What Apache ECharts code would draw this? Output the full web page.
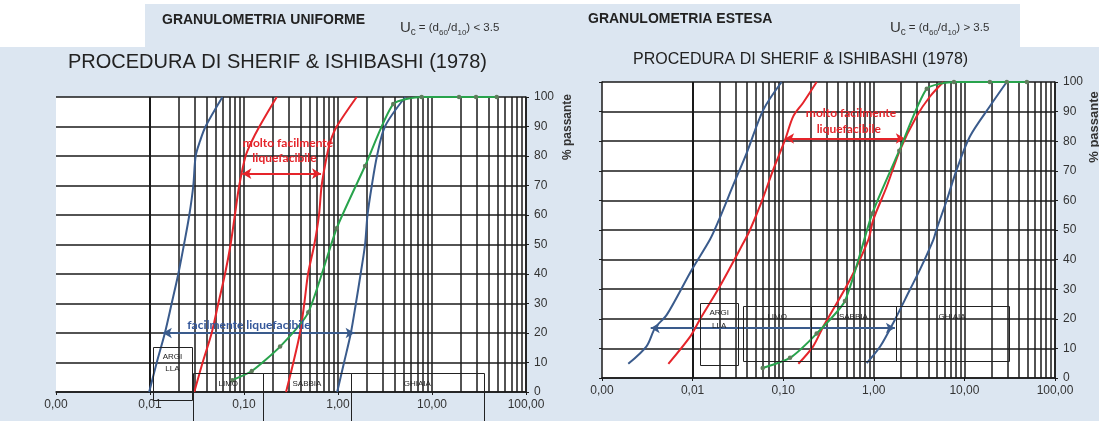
<!DOCTYPE html>
<html><head><meta charset="utf-8">
<script src="https://cdn.jsdelivr.net/npm/echarts@6/dist/echarts.min.js"></script>
<style>
html,body{margin:0;padding:0;background:#fff;width:1099px;height:421px;overflow:hidden;position:relative;}
.bg{position:absolute;background:#dce6f1;}
#c{position:absolute;left:0;top:0;width:1099px;height:421px;}
</style>
</head><body>
<div class="bg" style="left:145px;top:4px;width:875px;height:44px;"></div>
<div class="bg" style="left:0;top:47px;width:1099px;height:374px;"></div>
<div id="c"></div>
<script>
// ---- axis ticks ----
const xTickValues = [0.001, 0.01, 0.1, 1, 10, 100];
const xTickLabels = ['0,00', '0,01', '0,10', '1,00', '10,00', '100,00'];
const decades = [0.001, 0.01, 0.1, 1, 10];
const minorSteps = [1, 2, 3, 4, 5, 6, 7, 8, 9];

// ---- GRANULOMETRIA UNIFORME (left) : [diameter mm, % passante] ----
const blueU1 = [[0.0098,0],[0.0118,10],[0.0144,20],[0.017,30],[0.020,40],[0.023,50],[0.0262,60],[0.0289,70],[0.0306,80],[0.034,85],[0.039,90],[0.059,100]];
const redU1  = [[0.0296,0],[0.0363,10],[0.0453,20],[0.0533,30],[0.0628,40],[0.072,50],[0.080,60],[0.089,70],[0.104,80],[0.121,85],[0.146,90],[0.223,100]];
const redU2  = [[0.28,0],[0.335,10],[0.394,20],[0.438,30],[0.48,40],[0.56,50],[0.628,60],[0.67,70],[0.76,80],[0.83,85],[0.97,90],[1.58,100]];
const blueU2 = [[0.98,0],[1.16,10],[1.37,20],[1.55,30],[1.74,40],[1.94,50],[2.06,60],[2.29,70],[2.6,80],[3.16,90],[5.2,100]];
const greenU = [[0.075,4.0],[0.121,7.1],[0.242,15.4],[0.483,27],[0.968,55.5],[1.94,76.6],[3.87,97.6],[7.76,100],[19.4,100],[29.4,100],[48.8,100]];

// ---- GRANULOMETRIA ESTESA (right) ----
const blueE1 = [[0.00195,4.8],[0.0031,10.7],[0.00385,16.9],[0.0052,21.4],[0.0098,36.6],[0.0155,46.7],[0.0192,52.9],[0.0282,65.3],[0.0395,76],[0.0603,90.6],[0.096,100]];
const redE1  = [[0.0054,4.8],[0.0094,14],[0.012,19.7],[0.020,31],[0.0379,46.7],[0.043,50],[0.058,59.7],[0.0777,70.4],[0.105,80.5],[0.129,88.4],[0.166,93],[0.234,100]];
const redE2  = [[0.147,4.8],[0.214,10.7],[0.277,17.4],[0.546,33.2],[0.87,46.7],[0.988,53.5],[1.39,64.7],[1.95,77.1],[2.97,88.4],[4.17,95.1],[5.86,100]];
const blueE2 = [[0.834,5],[1.18,10.7],[1.71,19.7],[2.5,29.8],[3.23,36.6],[4.54,46.7],[4.9,50],[6.33,59.7],[8.22,70.4],[11.5,81.6],[19.1,91.8],[29.3,100]];
const greenE = [[0.0594,3.4],[0.119,6.8],[0.234,15],[0.48,26],[0.962,55.6],[1.91,76.8],[3.84,97.7],[7.67,100],[19.1,100],[29.4,100],[48.9,100]];

// ---- arrows [x1, x2, y] ----
const arrowRedU = [0.096, 0.66, 74];
const arrowBlueU = [0.0137, 1.5, 20];
const arrowRedE = [0.105, 2.2, 80.9];
const arrowBlueE = [0.00345, 1.71, 16.9];

// ---- soil class boxes [xFrom, xTo, yTop, yBottom] ----
const boxNames = ['ARGILLA', 'LIMO', 'SABBIA', 'GHIAIA'];
const boxLabels = [['ARGI', 'LLA'], ['LIMO'], ['SABBIA'], ['GHIAIA']];
const boxesU = [[0.0108, 0.0278, 15.4, -2.4], [0.0289, 0.160, 6.3, -12], [0.160, 1.365, 6.3, -12], [1.365, 35.7, 6.3, -12]];
const boxesE = [[0.0121, 0.0319, 25.5, 4.7], [0.0363, 0.2027, 24.3, 5.8], [0.2027, 1.746, 24.3, 5.8], [1.746, 30.5, 24.3, 5.8]];

// ---- texts ----
const headerU = 'GRANULOMETRIA UNIFORME';
const headerE = 'GRANULOMETRIA ESTESA';
const titleText = 'PROCEDURA DI SHERIF & ISHIBASHI (1978)';
const yName = '% passante';
const noteRed = ['molto facilmente', 'liquefacibile'];
const noteBlue = 'facilmente liquefacibile';

const BLUE = '#3a5b8c', RED = '#e5242a', GREEN = '#28a34c', GRID = '#1a1a1a';
const FONT = '"Liberation Sans", Arial, sans-serif';
const NOTE_FONT = 'Lato, "Open Sans", sans-serif';

const vLines = [];
decades.forEach(d => minorSteps.forEach(m => vLines.push(+(d * m).toPrecision(3))));
vLines.push(100);

function xFmt(v) {
  const i = xTickValues.findIndex(t => Math.abs(Math.log10(t) - Math.log10(v)) < 1e-6);
  return i >= 0 ? xTickLabels[i] : '';
}

function xAxisFor(gi) {
  return {
    type: 'log', logBase: 10, min: 0.001, max: 100, gridIndex: gi,
    axisLine: { show: true, lineStyle: { color: GRID, width: 1.5 } },
    axisTick: { show: true, length: 3, lineStyle: { color: GRID } },
    axisLabel: { formatter: xFmt, color: '#333', fontSize: 12, fontFamily: FONT, margin: 7 },
    splitLine: { show: false }, minorTick: { show: false }, minorSplitLine: { show: false }
  };
}
function yAxisFor(gi, pos, labels) {
  return {
    type: 'value', min: 0, max: 100, interval: 10, gridIndex: gi, position: pos,
    axisLine: { show: true, lineStyle: { color: GRID, width: 1.5 } },
    axisTick: { show: true, length: 3, lineStyle: { color: GRID } },
    axisLabel: { show: labels, color: '#333', fontSize: 12, fontFamily: FONT, margin: 8 },
    splitLine: { show: labels, lineStyle: { color: GRID, width: 1.5 } }
  };
}
function gridLinesSeries(xi, yi) {
  return {
    type: 'line', xAxisIndex: xi, yAxisIndex: yi, data: [[0.001, 0]], symbol: 'none',
    lineStyle: { opacity: 0 }, z: 1, silent: true,
    markLine: {
      silent: true, symbol: ['none', 'none'], label: { show: false }, animation: false,
      lineStyle: { color: GRID, width: 1.5, type: 'solid' },
      emphasis: { disabled: true },
      data: vLines.map(v => ({ xAxis: v }))
    }
  };
}
function curve(xi, yi, data, color) {
  return { type: 'line', xAxisIndex: xi, yAxisIndex: yi, data, smooth: 0.3, symbol: 'none',
    lineStyle: { color, width: 2 }, z: 5, silent: true };
}
function green(xi, yi, data) {
  return { type: 'line', xAxisIndex: xi, yAxisIndex: yi, data, smooth: 0.2, symbol: 'circle', symbolSize: 4.5,
    showSymbol: true, itemStyle: { color: '#5f7d5c' }, lineStyle: { color: GREEN, width: 2 }, z: 6, silent: true };
}
function arrow(xi, yi, a, color) {
  return {
    type: 'line', xAxisIndex: xi, yAxisIndex: yi, data: [[a[0], a[2]]], symbol: 'none', lineStyle: { opacity: 0 }, z: 7, silent: true,
    markLine: { silent: true, symbol: ['arrow', 'arrow'], symbolSize: [8, 9], label: { show: false }, animation: false,
      lineStyle: { color, width: 2, type: 'solid' }, emphasis: { disabled: true },
      data: [[{ coord: [a[0], a[2]] }, { coord: [a[1], a[2]] }]] }
  };
}

const chart = echarts.init(document.getElementById('c'), null, { renderer: 'canvas' });
const option = {
  backgroundColor: 'transparent',
  animation: false,
  grid: [
    { left: 56, top: 97, width: 470, height: 295, show: true, backgroundColor: '#fff', borderWidth: 0, outerBoundsMode: 'none' },
    { left: 602, top: 82, width: 453, height: 296, show: true, backgroundColor: '#fff', borderWidth: 0, outerBoundsMode: 'none' }
  ],
  xAxis: [xAxisFor(0), xAxisFor(1)],
  yAxis: [yAxisFor(0, 'right', true), yAxisFor(1, 'right', true), yAxisFor(1, 'left', false)],
  series: [
    gridLinesSeries(0, 0), gridLinesSeries(1, 1),
    curve(0, 0, blueU1, BLUE), curve(0, 0, redU1, RED), curve(0, 0, redU2, RED), curve(0, 0, blueU2, BLUE), green(0, 0, greenU),
    curve(1, 1, blueE1, BLUE), curve(1, 1, redE1, RED), curve(1, 1, redE2, RED), curve(1, 1, blueE2, BLUE), green(1, 1, greenE),
    arrow(0, 0, arrowRedU, RED), arrow(0, 0, arrowBlueU, BLUE), arrow(1, 1, arrowRedE, RED), arrow(1, 1, arrowBlueE, BLUE)
  ]
};
chart.setOption(option);

function P(gi, p) { return chart.convertToPixel({ gridIndex: gi }, p); }
function txt(x, y, text, o) {
  return { type: 'text', z: 60, silent: true, x, y,
    style: Object.assign({ text, fill: '#222', fontSize: 12, fontFamily: FONT, align: 'center', verticalAlign: 'middle',
      textAlign: 'center', textVerticalAlign: 'middle' }, o || {}) };
}
const graphics = [];
function addBoxes(gi, boxes, dy) {
  boxes.forEach((b, i) => {
    const p1 = P(gi, [b[0], b[2]]), p2 = P(gi, [b[1], b[3]]);
    graphics.push({ type: 'rect', z: 55, silent: true,
      shape: { x: Math.round(p1[0]) + 0.5, y: Math.round(p1[1]) + 0.5, width: Math.round(p2[0] - p1[0]), height: Math.round(p2[1] - p1[1]) },
      style: { fill: 'none', stroke: '#222', lineWidth: 1 } });
    const cx = (p1[0] + p2[0]) / 2;
    boxLabels[i].forEach((s, k) => graphics.push(txt(cx, p1[1] + dy + k * 12.5, s, { fontSize: 8, fill: '#222' })));
  });
}
addBoxes(0, boxesU, 10);
addBoxes(1, boxesE, 10.5);

// annotation texts (data coordinates)
let q;
q = P(0, [0.294, 84.4]); graphics.push(txt(q[0], q[1], noteRed[0], { fill: RED, fontWeight: 'bold', fontFamily: NOTE_FONT, fontSize: 12 }));
q = P(0, [0.27, 79.3]); graphics.push(txt(q[0], q[1], noteRed[1], { fill: RED, fontWeight: 'bold', fontFamily: NOTE_FONT, fontSize: 12 }));
q = P(0, [0.113, 22.7]); graphics.push(txt(q[0], q[1], noteBlue, { fill: '#34579a', fontWeight: 'bold', fontFamily: NOTE_FONT, fontSize: 12 }));
q = P(1, [0.56, 89.6]); graphics.push(txt(q[0], q[1], noteRed[0], { fill: RED, fontWeight: 'bold', fontFamily: NOTE_FONT, fontSize: 12 }));
q = P(1, [0.53, 84.0]); graphics.push(txt(q[0], q[1], noteRed[1], { fill: RED, fontWeight: 'bold', fontFamily: NOTE_FONT, fontSize: 12 }));

// y-axis names
graphics.push(Object.assign(txt(568, 127, yName, { fontWeight: 'bold', fontSize: 12, fill: '#333' }), { rotation: Math.PI / 2 }));
graphics.push(Object.assign(txt(1094, 127, yName, { fontWeight: 'bold', fontSize: 13, fill: '#333' }), { rotation: Math.PI / 2 }));

// headers and titles
graphics.push(txt(162, 20, headerU, { align: 'left', textAlign: 'left', fontWeight: 'bold', fontSize: 14, fill: '#222' }));
graphics.push(txt(588, 19, headerE, { align: 'left', textAlign: 'left', fontWeight: 'bold', fontSize: 14, fill: '#222' }));
const ucRich = {
  u: { fontSize: 15, fontFamily: FONT, fill: '#333', verticalAlign: 'middle', lineHeight: 18 },
  c: { fontSize: 10, fontFamily: FONT, fill: '#333', verticalAlign: 'bottom', lineHeight: 18, padding: [0, 3, 0, 0] },
  t: { fontSize: 11.5, fontFamily: FONT, fill: '#333', verticalAlign: 'middle', lineHeight: 18 },
  s: { fontSize: 8, fontFamily: FONT, fill: '#333', verticalAlign: 'bottom', lineHeight: 18 }
};
graphics.push(txt(400, 28, '{u|U}{c|c}{t|= (d}{s|60}{t|/d}{s|10}{t|) < 3.5}', { align: 'left', textAlign: 'left', rich: ucRich }));
graphics.push(txt(890, 28, '{u|U}{c|c}{t|= (d}{s|60}{t|/d}{s|10}{t|) > 3.5}', { align: 'left', textAlign: 'left', rich: ucRich }));
graphics.push(txt(68, 62, titleText, { align: 'left', textAlign: 'left', fontSize: 20, fill: '#222' }));
graphics.push(txt(633, 60, titleText, { align: 'left', textAlign: 'left', fontSize: 16, fill: '#222' }));

chart.setOption({ graphic: graphics });
</script>
</body></html>
